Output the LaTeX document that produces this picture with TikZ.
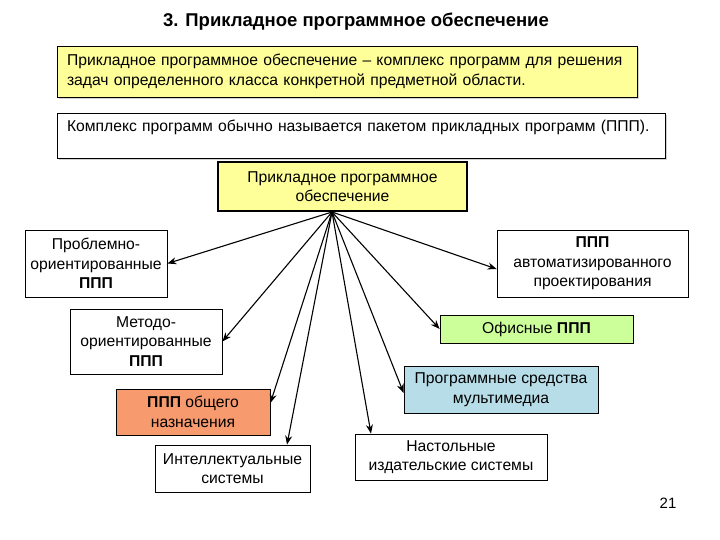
\documentclass[tikz,border=0pt]{standalone}
\usepackage{fontspec}
\setmainfont{Liberation Sans}
\usetikzlibrary{arrows.meta,shadows}
\definecolor{ylw}{HTML}{FFFF99}
\definecolor{grn}{HTML}{CCFF99}
\definecolor{blu}{HTML}{B7DEE8}
\definecolor{org}{HTML}{F79A6E}
\begin{document}
\begin{tikzpicture}[x=1pt,y=-1pt,
  box/.style={draw, line width=0.8pt, align=center, inner sep=0pt,
    font=\fontsize{15.7}{19.5}\selectfont},
  shd/.style={drop shadow={shadow xshift=2pt, shadow yshift=-2pt, fill=black!35}},
  arr/.style={-{Stealth[length=9pt,width=7pt]}, line width=1.1pt}]
\useasboundingbox (0,0) rectangle (720,540);
\node[font=\bfseries\fontsize{18.5}{21}\selectfont] (title) at (356,22) {3. Прикладное программное обеспечение};
\node[box, shd, fill=ylw, minimum width=580, minimum height=51, text width=560, align=left] (def) at (347,71.5)
  {Прикладное программное обеспечение – комплекс программ для решения\\задач определенного класса конкретной предметной области.};
\node[box, shd, fill=white, minimum width=608, minimum height=45, text width=588, align=left] (ppp) at (361,135.5)
  {Комплекс программ обычно называется пакетом прикладных программ (ППП).\\\mbox{}};
\node[box, fill=ylw, line width=2.5pt, minimum width=249, minimum height=49] (c) at (342.5,186.5)
  {Прикладное программное\\обеспечение};
\node[box, minimum width=142, minimum height=67] (pl) at (96,263.5)
  {Проблемно-\\ориентированные\\\textbf{ППП}};
\node[box, minimum width=191, minimum height=67] (auto) at (592.5,263.5)
  {\textbf{ППП}\\автоматизированного\\проектирования};
\node[box, minimum width=152, minimum height=65] (meth) at (146,341.5)
  {Методо-\\ориентированные\\\textbf{ППП}};
\node[box, fill=grn, minimum width=193, minimum height=28] (off) at (536.5,329)
  {Офисные \textbf{ППП}};
\node[box, fill=blu, minimum width=194, minimum height=47] (mm) at (501,389.5)
  {Программные средства\\мультимедиа};
\node[box, fill=org, minimum width=154, minimum height=46] (gen) at (193,412)
  {\textbf{ППП} общего\\назначения};
\node[box, minimum width=155, minimum height=47] (intel) at (232.5,468.5)
  {Интеллектуальные\\системы};
\node[box, minimum width=192, minimum height=46] (desk) at (451,457)
  {Настольные\\издательские системы};
\node[font=\fontsize{15}{17}\selectfont] (num) at (668,503) {21};
\coordinate (o) at (332,212);
\draw[arr] (o) -- (pl.east);
\draw[arr] (o) -- ([yshift=-5.5pt]auto.west);
\draw[arr] (o) -- (meth.east);
\draw[arr] (o) -- (off.west);
\draw[arr] (o) -- ([yshift=-3.5pt]mm.west);
\draw[arr] (o) -- ([yshift=9pt]gen.east);
\draw[arr] (o) -- ([xshift=54.5pt]intel.north);
\draw[arr] (o) -- ([xshift=-80pt]desk.north);
\end{tikzpicture}
\end{document}
